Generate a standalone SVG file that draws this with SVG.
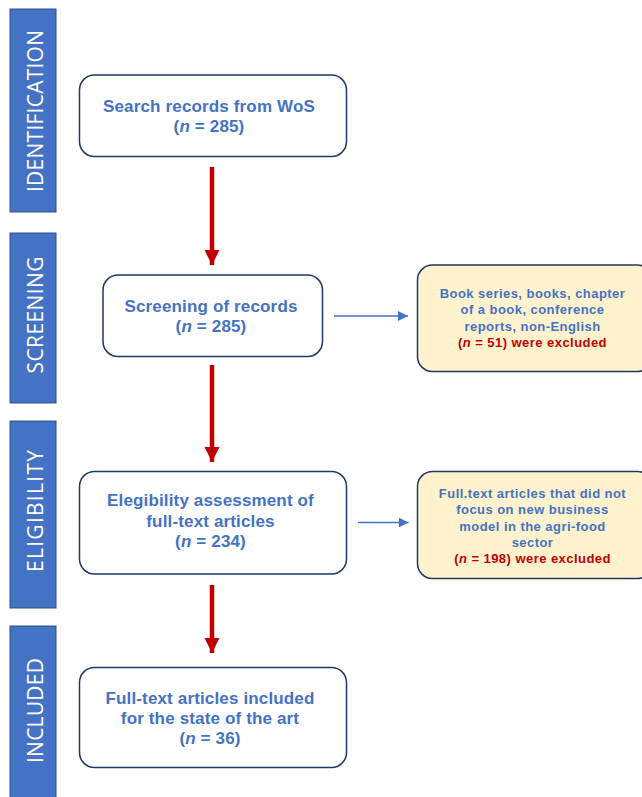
<svg xmlns="http://www.w3.org/2000/svg" width="642" height="797" viewBox="0 0 642 797">
<style>
.bar{fill:#4472C4;stroke:#2F528F;stroke-width:1}
.bt{font-family:"Open Sans","Liberation Sans",sans-serif;font-size:21px;fill:#FFFFFF;text-anchor:middle}
.box{fill:#FFFFFF;stroke:#1F3864;stroke-width:1.5}
.ex{fill:#FFF2CC;stroke:#1F3864;stroke-width:1.5}
.t{font-family:"Liberation Sans",Arial,sans-serif;font-size:17px;font-weight:bold;fill:#4472C4;text-anchor:middle;letter-spacing:0.15px}
.s{font-family:"Liberation Sans",Arial,sans-serif;font-size:13px;font-weight:bold;fill:#4472C4;text-anchor:middle;letter-spacing:0.45px}
.r{fill:#C00000}
.red{stroke:#C00000;stroke-width:4.5;fill:none}
.blue{stroke:#4472C4;stroke-width:1.3;fill:none}
</style>
<defs>
<marker id="rh" markerUnits="userSpaceOnUse" markerWidth="16" markerHeight="16" refX="15" refY="7.5" orient="auto">
<path d="M0,0 L15,7.5 L0,15 Z" fill="#C00000"/>
</marker>
<marker id="bh" markerUnits="userSpaceOnUse" markerWidth="12" markerHeight="12" refX="10" refY="5" orient="auto">
<path d="M0,0 L10,5 L0,10 Z" fill="#4472C4"/>
</marker>
</defs>
<g id="stage-identification">
<rect class="bar" x="10" y="9" width="46" height="203"/>
<text class="bt" transform="translate(42.5,111) rotate(-90)" textLength="162" lengthAdjust="spacing">IDENTIFICATION</text>
</g>
<g id="stage-screening">
<rect class="bar" x="10" y="233" width="46" height="170"/>
<text class="bt" transform="translate(42.5,315) rotate(-90)" textLength="117" lengthAdjust="spacing">SCREENING</text>
</g>
<g id="stage-eligibility">
<rect class="bar" x="10" y="421" width="46" height="187"/>
<text class="bt" transform="translate(42.5,511) rotate(-90)" textLength="122" lengthAdjust="spacing">ELIGIBILITY</text>
</g>
<g id="stage-included">
<rect class="bar" x="10" y="626" width="46" height="180"/>
<text class="bt" transform="translate(42.5,710.5) rotate(-90)" textLength="105" lengthAdjust="spacing">INCLUDED</text>
</g>
<g id="connectors">
<line class="red" x1="212" y1="167" x2="212" y2="265" marker-end="url(#rh)"/>
<line class="red" x1="212" y1="365" x2="212" y2="462" marker-end="url(#rh)"/>
<line class="red" x1="212" y1="585" x2="212" y2="653" marker-end="url(#rh)"/>
<line class="blue" x1="334" y1="316" x2="408" y2="316" marker-end="url(#bh)"/>
<line class="blue" x1="358" y1="522.5" x2="408.5" y2="522.5" marker-end="url(#bh)"/>
</g>
<g id="node-search">
<rect class="box" x="79.5" y="75" width="267" height="81.5" rx="15"/>
<text class="t" x="209" y="112">Search records from WoS</text>
<text class="t" x="209" y="132">(<tspan font-style="italic">n</tspan> = 285)</text>
</g>
<g id="node-screening">
<rect class="box" x="103" y="275" width="219.5" height="81.5" rx="15"/>
<text class="t" x="211" y="311.5">Screening of records</text>
<text class="t" x="211" y="332">(<tspan font-style="italic">n</tspan> = 285)</text>
</g>
<g id="node-excluded-1">
<rect class="ex" x="417.5" y="265" width="235" height="106.5" rx="15"/>
<text class="s" x="532.5" y="297.5">Book series, books, chapter</text>
<text class="s" x="532.5" y="314">of a book, conference</text>
<text class="s" x="532.5" y="330.5">reports, non-English</text>
<text class="s r" x="532.5" y="346.5">(<tspan font-style="italic">n</tspan> = 51) were excluded</text>
</g>
<g id="node-eligibility">
<rect class="box" x="79.5" y="471.5" width="267" height="102.5" rx="15"/>
<text class="t" x="210.5" y="506">Elegibility assessment of</text>
<text class="t" x="210.5" y="526.5">full-text articles</text>
<text class="t" x="210.5" y="547">(<tspan font-style="italic">n</tspan> = 234)</text>
</g>
<g id="node-excluded-2">
<rect class="ex" x="417.5" y="471.5" width="235" height="107" rx="15"/>
<text class="s" x="532.5" y="497.5">Full.text articles that did not</text>
<text class="s" x="532.5" y="514">focus on new business</text>
<text class="s" x="532.5" y="530.5">model in the agri-food</text>
<text class="s" x="532.5" y="547">sector</text>
<text class="s r" x="532.5" y="563">(<tspan font-style="italic">n</tspan> = 198) were excluded</text>
</g>
<g id="node-included">
<rect class="box" x="79.5" y="667.5" width="267" height="100" rx="15"/>
<text class="t" x="210" y="704">Full-text articles included</text>
<text class="t" x="210" y="723.5">for the state of the art</text>
<text class="t" x="210" y="743.5">(<tspan font-style="italic">n</tspan> = 36)</text>
</g>
</svg>
